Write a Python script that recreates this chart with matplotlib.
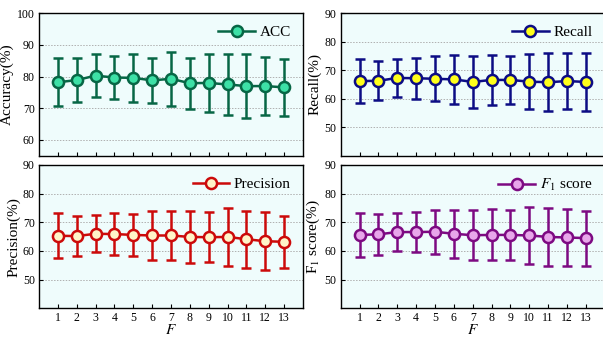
import numpy as np
import matplotlib
matplotlib.use('Agg')
import matplotlib.pyplot as plt

plt.rcParams['font.family'] = ['Liberation Serif', 'DejaVu Serif']
plt.rcParams['mathtext.fontset'] = 'stix'

F = np.arange(1, 14)

acc_mean = [78.2, 78.9, 80.3, 79.7, 79.6, 78.8, 79.3, 77.9, 78.0, 77.5, 77.0, 77.0, 76.6]
acc_std = [7.6, 6.9, 6.8, 6.9, 7.5, 7.0, 8.5, 8.0, 9.1, 9.7, 10.0, 9.2, 9.1]

rec_mean = [66.2, 66.3, 67.3, 67.2, 67.0, 66.8, 65.9, 66.6, 66.6, 66.0, 65.8, 66.2, 65.9]
rec_std = [7.8, 6.9, 6.7, 7.2, 7.9, 8.5, 9.0, 8.8, 8.4, 9.6, 10.2, 9.8, 10.2]

pre_mean = [65.3, 65.2, 66.0, 65.9, 65.6, 65.4, 65.4, 64.9, 64.8, 64.9, 64.1, 63.4, 63.2]
pre_std = [7.8, 7.0, 6.5, 7.2, 7.3, 8.4, 8.5, 9.0, 8.8, 10.1, 10.0, 10.1, 9.0]

f1_mean = [65.6, 65.8, 66.6, 66.6, 66.7, 66.0, 65.5, 65.6, 65.6, 65.4, 64.9, 64.7, 64.5]
f1_std = [7.7, 7.1, 6.5, 7.1, 7.6, 8.4, 8.8, 8.9, 8.6, 9.8, 10.0, 10.0, 9.6]

panels = [
    # mean, std, label, ylabel, ylim, yticks, line color, face color
    (acc_mean, acc_std, 'ACC', 'Accuracy(%)', (55, 100), [60, 70, 80, 90, 100], '#076645', '#3de0a6'),
    (rec_mean, rec_std, 'Recall', 'Recall(%)', (40, 90), [50, 60, 70, 80, 90], '#0c0c84', '#ffff1a'),
    (pre_mean, pre_std, 'Precision', 'Precision(%)', (40, 90), [50, 60, 70, 80, 90], '#cc0a0a', '#fff5c8'),
    (f1_mean, f1_std, '$F_1$ score', 'F$_1$ score(%)', (40, 90), [50, 60, 70, 80, 90], '#7d0a82', '#e8a6ea'),
]

positions = [
    [0.0647, 0.5407, 0.4378, 0.4201],
    [0.5650, 0.5407, 0.4378, 0.4201],
    [0.0647, 0.0906, 0.4378, 0.4227],
    [0.5650, 0.0906, 0.4378, 0.4227],
]

fig = plt.figure(figsize=(6.03, 3.39), dpi=100)

for i, (mean, std, lab, ylab, ylim, yt, lc, fc) in enumerate(panels):
    ax = fig.add_axes(positions[i])
    ax.set_facecolor('#effcfc')
    ax.errorbar(F, mean, yerr=std, fmt='none', ecolor=lc, elinewidth=1.8,
                capsize=3.5, capthick=1.8)
    ax.plot(F, mean, color=lc, lw=1.8, marker='o', markersize=8,
            markerfacecolor=fc, markeredgecolor=lc, markeredgewidth=1.8,
            label=lab)
    ax.set_xlim(0, 14)
    ax.set_ylim(*ylim)
    ax.set_yticks(yt)
    ax.set_xticks(F)
    ax.grid(axis='y', linestyle=(0, (1.5, 1.5)), color='#b0b0b0', lw=0.7)
    ax.set_axisbelow(True)
    ax.tick_params(direction='in', labelsize=8.5, length=3, width=0.8, pad=3)
    ax.set_ylabel(ylab, fontsize=11, labelpad=2)
    for s in ax.spines.values():
        s.set_linewidth(1.0)
    if i < 2:
        ax.set_xticklabels([])
    else:
        ax.set_xlabel('$F$', fontsize=11, labelpad=-1)
    ax.legend(loc='upper right', frameon=False, fontsize=11,
              handlelength=2.4, handletextpad=0.3, borderaxespad=0.4)

fig.savefig('out.png', dpi=100)
